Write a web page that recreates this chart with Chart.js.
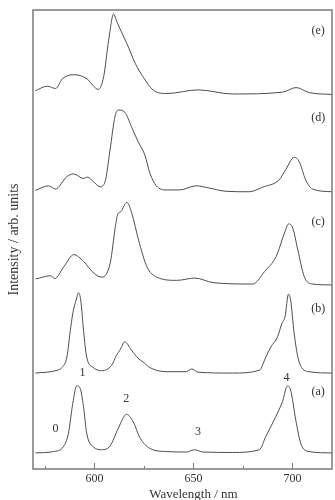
<!DOCTYPE html>
<html>
<head>
<meta charset="utf-8">
<script src="https://cdn.jsdelivr.net/npm/chart.js@4.4.1/dist/chart.umd.min.js"></script>
<style>
body { margin: 0; background: #fff; }
</style>
</head>
<body>
<canvas id="spectra" width="335" height="500"></canvas>
<script>
// wavelengths (nm) and intensities (arb. units) for each spectrum
let waveA = [570.2, 579.4, 584.4, 586.9, 589.1, 591.1, 592.8, 594.5, 596.1, 599.5, 603.7, 607.9, 612.1, 616.2, 619.6, 623, 628, 636.3, 646.4, 650.6, 654.8, 669.8, 683.3, 686.6, 691.6, 695, 697.5, 699.1, 701.7, 704.2, 708.4, 720]
let intA = [0, 0.3, 1.4, 4.3, 10.8, 14.6, 14.1, 10.1, 4.3, 1.3, 0.7, 1.5, 5.4, 8.4, 6.8, 3.3, 1.0, 0.3, 0.2, 0.7, 0.2, 0.1, 0.7, 3.6, 7.9, 11.2, 14.6, 13.7, 7.2, 2.1, 0.3, 0]

let waveB = [570.2, 581.1, 583.6, 586.1, 588.1, 589.4, 590.8, 592, 593.1, 594.5, 596.1, 599.5, 603.7, 608.7, 611.2, 612.9, 615.4, 618.7, 622.1, 624.6, 628, 636.3, 646.4, 649.2, 652.3, 669.8, 683.3, 686.6, 689.1, 692.5, 694.6, 696.3, 698, 699.1, 700.9, 703.4, 708.4, 720]
let intB = [-0.2, 0.4, 1.0, 3.3, 9.9, 13.5, 15.7, 17.3, 15.7, 9.2, 3.3, 1.0, 0.3, 1.5, 3.7, 4.8, 6.6, 4.8, 3.0, 2.2, 1.0, 0.1, 0.1, 0.7, 0, -0.2, 0.4, 3.3, 5.5, 7.7, 10.5, 12.1, 17.0, 15.7, 8.4, 2.2, 0.1, -0.2]

let waveC = [570.4, 577.9, 580, 584.6, 589.6, 594.6, 599.6, 603.9, 608, 610.6, 611.7, 613.4, 616.4, 618.9, 622.3, 626.5, 631.5, 641.6, 650.8, 660, 680, 685.9, 691.8, 696, 698.1, 700.2, 702.7, 706, 710.2, 720]
let intC = [0.4, 1.1, 0.5, 3.1, 5.7, 4.2, 1.7, 0.8, 3.9, 11.8, 14.4, 15.1, 17.1, 14.7, 8.9, 3.1, 0.8, 0.1, 0.6, -0.4, -0.7, 2.0, 5.3, 10.4, 12.4, 11.5, 6.8, 0.9, -0.7, -0.9]

let waveD = [570.2, 576.9, 580.3, 586.1, 589.4, 594.5, 596.5, 599.5, 602.9, 605.4, 607.9, 610.4, 612.1, 615.4, 618.7, 622.1, 625.5, 628, 631.3, 636.3, 643.1, 651.4, 658.1, 666.5, 678.2, 684.9, 693.3, 696.6, 700.9, 703.4, 706.7, 710.1, 720]
let intD = [0.1, 1.1, 0.4, 3.1, 3.7, 2.7, 3.0, 2.0, 0.9, 2.0, 8.9, 16.2, 17.6, 17.1, 14.0, 10.7, 7.8, 3.9, 1.1, 0.2, 0.2, 1.1, 0.6, -0.1, -0.2, 0.8, 2.4, 4.6, 7.3, 6.4, 2.4, 0.4, -0.2]

let waveE = [570.2, 576.2, 580.4, 583.8, 589.4, 596.3, 599.6, 601.9, 604.7, 607.2, 609.7, 611.4, 613.9, 616.4, 620.6, 624.8, 629.6, 636.7, 652.3, 669.8, 695, 701.9, 708.5, 720]
let intE = [0.5, 1.5, 1.0, 3.1, 4.0, 3.1, 1.5, 0.8, 3.6, 11.5, 17.2, 15.5, 13.1, 10.8, 6.5, 3.4, 0.7, -0.1, 0.7, -0.2, 0.2, 1.2, 0.1, -0.3]

// vertical offsets of the stacked spectra, bottom to top
let traceOffsets = [3.5, 21.1, 41.0, 60.6, 81.9]
let traceNames = ["(a)", "(b)", "(c)", "(d)", "(e)"]
let nameWave = 713
let nameLevel = [16.8, 34.9, 53.8, 76.5, 95.4]

// band numbers over spectrum (a)
let bandNames = ["0", "1", "2", "3", "4"]
let bandWave = [580.4, 594.0, 616.1, 652.3, 697.0]
let bandLevel = [8.7, 20.9, 15.3, 8.1, 19.8]

let majorTicks = [600, 650, 700]
let minorTicks = [575, 625, 675]
let xTitle = "Wavelength / nm"

let serif = "'Liberation Serif', 'DejaVu Serif', serif"
let lineColor = "#4d4d4d"

function makeSeries(waves, ints, offset){
    return waves.map((w, idx) => {
        return {x: w, y: ints[idx] + offset}
    })
}

let allWaves = [waveA, waveB, waveC, waveD, waveE]
let allInts = [intA, intB, intC, intD, intE]

let datasets = allWaves.map((w, idx) => {
    return {
        label: traceNames[idx],
        data: makeSeries(w, allInts[idx], traceOffsets[idx]),
        borderColor: lineColor,
        borderWidth: 1,
        pointRadius: 0,
        fill: false,
        cubicInterpolationMode: "monotone"
    }
})

let frameAndText = {
    id: "frameAndText",
    afterDraw(chart){
        let ctx = chart.ctx
        let area = chart.chartArea
        let xs = chart.scales.x
        let ys = chart.scales.y
        ctx.save()
        ctx.strokeStyle = "#7a7a7a"
        ctx.lineWidth = 1.5
        ctx.strokeRect(area.left, area.top, area.right - area.left, area.bottom - area.top)

        // inward ticks on the wavelength axis
        ctx.lineWidth = 1
        for(let t of majorTicks){
            let px = Math.round(xs.getPixelForValue(t)) + 0.5
            ctx.beginPath()
            ctx.moveTo(px, area.bottom)
            ctx.lineTo(px, area.bottom - 6)
            ctx.stroke()
        }
        for(let t of minorTicks){
            let px = Math.round(xs.getPixelForValue(t)) + 0.5
            ctx.beginPath()
            ctx.moveTo(px, area.bottom)
            ctx.lineTo(px, area.bottom - 3)
            ctx.stroke()
        }

        ctx.fillStyle = "#333"
        ctx.font = "12px " + serif
        ctx.textAlign = "center"
        ctx.textBaseline = "middle"
        traceNames.forEach((n, idx) => {
            ctx.fillText(n, xs.getPixelForValue(nameWave), ys.getPixelForValue(nameLevel[idx]))
        })
        bandNames.forEach((n, idx) => {
            ctx.fillText(n, xs.getPixelForValue(bandWave[idx]), ys.getPixelForValue(bandLevel[idx]))
        })

        // axis title sits under the 650 tick, as in the original
        ctx.font = "13px " + serif
        ctx.textBaseline = "alphabetic"
        ctx.fillText(xTitle, xs.getPixelForValue(650), 498)
        ctx.restore()
    }
}

let spectraChart = new Chart(document.getElementById("spectra"), {
    type: "line",
    data: { datasets: datasets },
    options: {
        responsive: false,
        animation: false,
        devicePixelRatio: 1,
        layout: { padding: { top: 10, right: 3, left: 0, bottom: 0 } },
        plugins: {
            legend: { display: false },
            tooltip: { enabled: false }
        },
        scales: {
            x: {
                type: "linear",
                min: 569,
                max: 720,
                afterBuildTicks: (scale) => {
                    scale.ticks = majorTicks.map(v => ({ value: v }))
                },
                afterFit: (scale) => { scale.height = 31 },
                grid: { display: false, drawTicks: false },
                border: { display: false },
                ticks: {
                    padding: 3,
                    color: "#333",
                    font: { family: serif, size: 12 }
                },
                title: { display: false }
            },
            y: {
                min: 0,
                max: 100,
                afterFit: (scale) => { scale.width = 33 },
                grid: { display: false, drawTicks: false },
                border: { display: false },
                ticks: { display: false },
                title: {
                    display: true,
                    text: "Intensity / arb. units",
                    color: "#333",
                    padding: { top: 6, bottom: 0 },
                    font: { family: serif, size: 14 }
                }
            }
        }
    },
    plugins: [frameAndText]
})
</script>
</body>
</html>
